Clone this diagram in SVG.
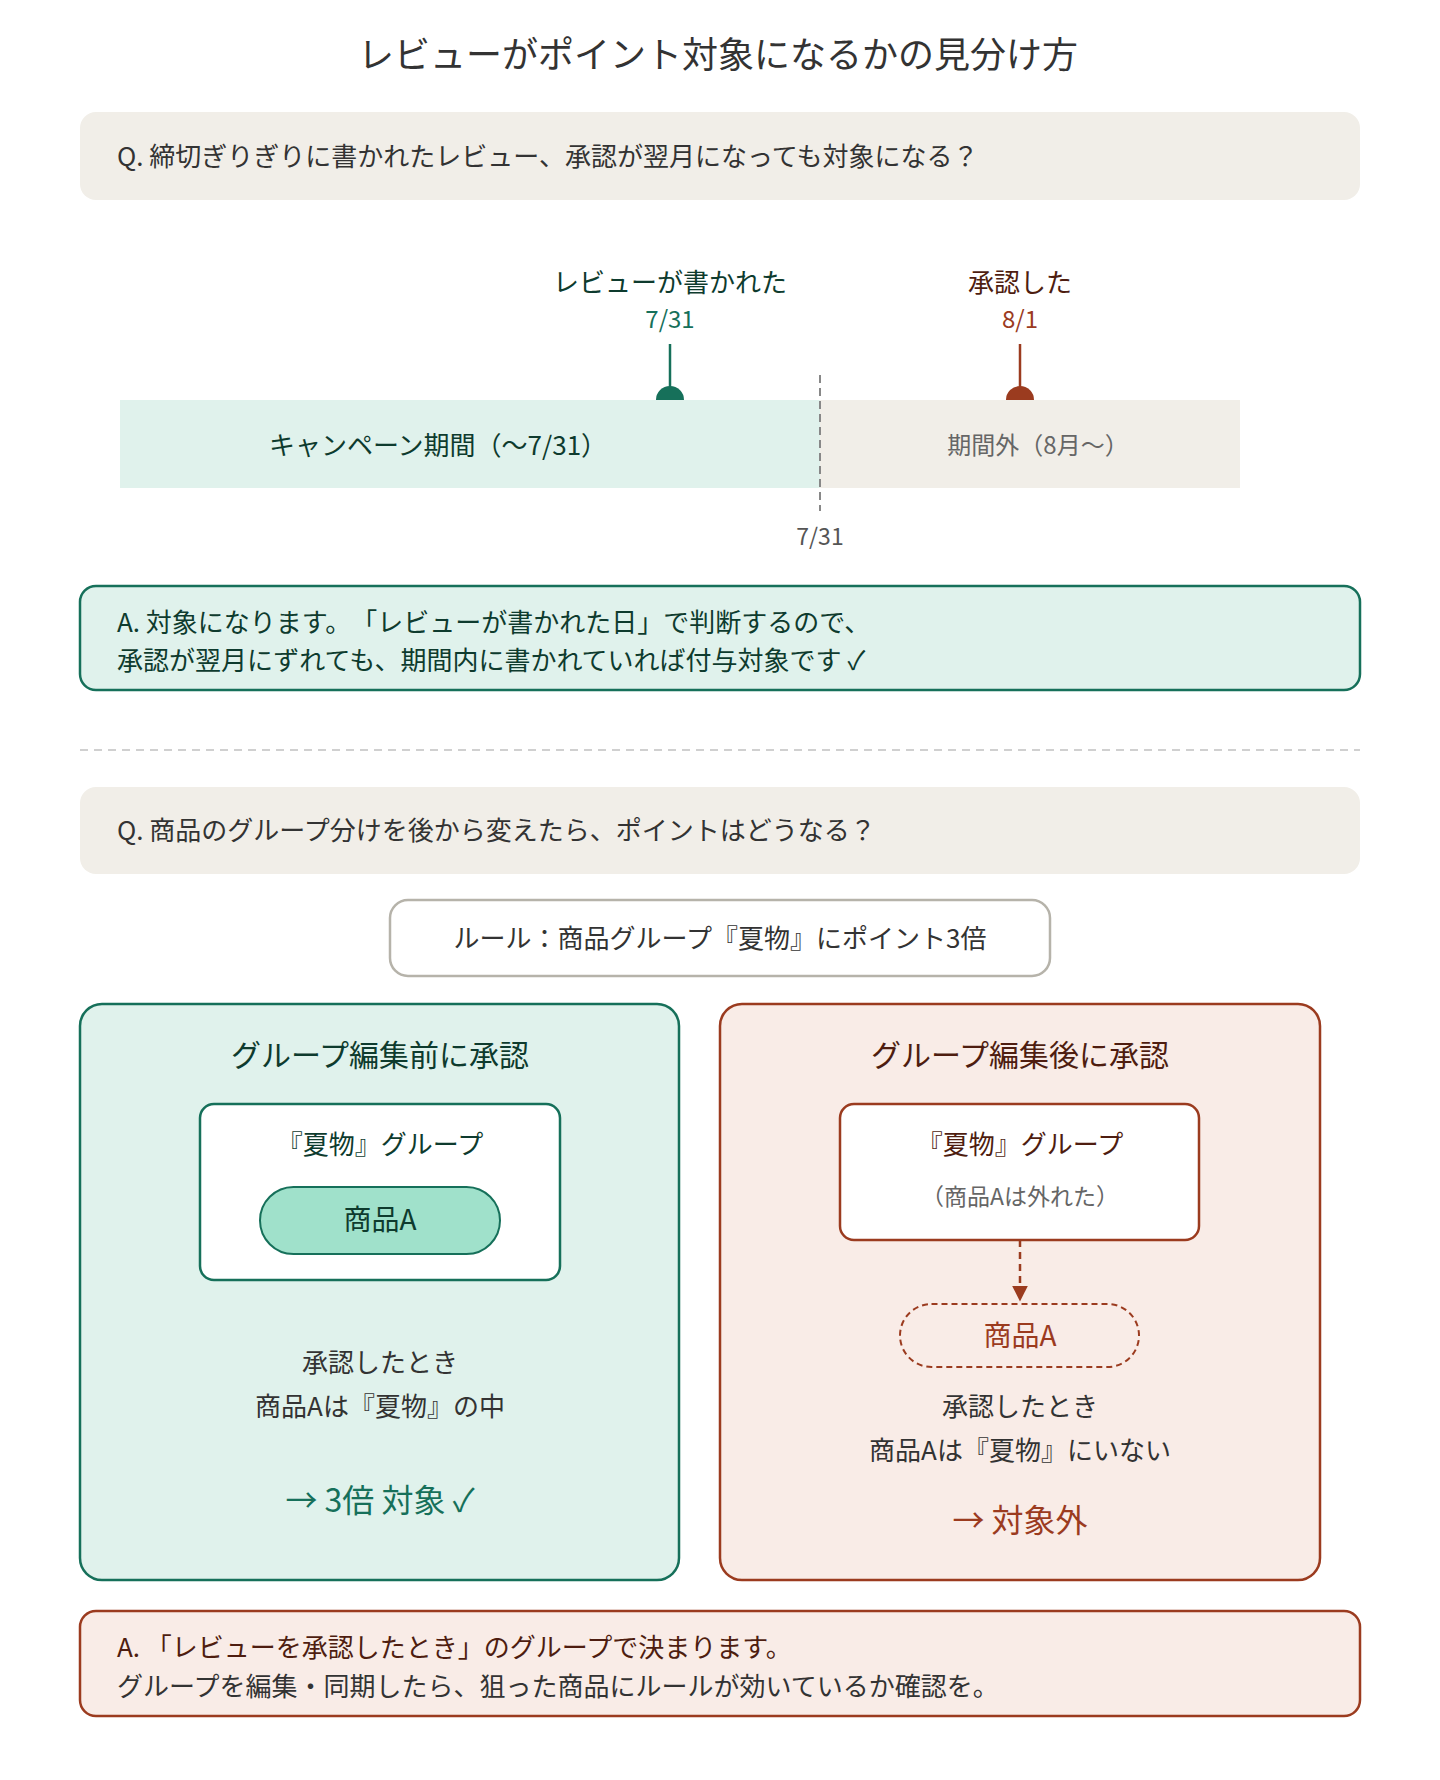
<svg xmlns="http://www.w3.org/2000/svg" width="1440" height="1780" viewBox="0 0 1440 1780">
<defs>
<style>
text{font-family:"Noto Sans CJK JP","Noto Sans",sans-serif;dominant-baseline:central;text-spacing-trim:space-all}
.c{text-anchor:middle}
.body{font-size:26px;fill:#333}
.qbox{fill:#f1eee8}
.gbox{fill:#e0f2ec;stroke:#16705a;stroke-width:2.5}
.rbox{fill:#f9ece7;stroke:#9b3b1f;stroke-width:2.5}
.gtxt{fill:#0e3b2e}
.rtxt{fill:#4e1d10}
</style>
<marker id="arrR" viewBox="0 0 10 10" refX="9" refY="5" markerWidth="16" markerHeight="18" markerUnits="userSpaceOnUse" orient="auto"><path d="M0,0 L10,5 L0,10 z" fill="#9b3b1f"/></marker>
</defs>
<rect width="1440" height="1780" fill="#fff"/>
<text x="718" y="52" class="c" font-size="36" fill="#333">レビューがポイント対象になるかの見分け方</text>

<g id="q1"><rect x="80" y="112" width="1280" height="88" rx="16" class="qbox"/>
<text x="117" y="154" class="body">Q. 締切ぎりぎりに書かれたレビュー、承認が翌月になっても対象になる？</text></g>

<g id="timeline">
<rect x="120" y="400" width="700" height="88" fill="#e0f2ec"/>
<rect x="820" y="400" width="420" height="88" fill="#f1eee8"/>
<text x="438" y="443" class="c gtxt" font-size="26">キャンペーン期間（〜7/31）</text>
<text x="1038" y="443" class="c" font-size="24" fill="#666">期間外（8月〜）</text>
<line x1="820" y1="375" x2="820" y2="511" stroke="#888" stroke-width="2" stroke-dasharray="8 5"/>
<text x="820" y="535" class="c" font-size="23" fill="#555">7/31</text>
</g>
<g id="m-written">
<text x="670" y="280" class="c gtxt" font-size="26">レビューが書かれた</text>
<text x="670" y="317" class="c" font-size="24" fill="#16705a">7/31</text>
<line x1="670" y1="344" x2="670" y2="392" stroke="#16705a" stroke-width="2.5"/>
<path d="M656,400 A14,14 0 0 1 684,400 z" fill="#16705a"/>
</g>
<g id="m-approved">
<text x="1020" y="280" class="c rtxt" font-size="26">承認した</text>
<text x="1020" y="317" class="c" font-size="24" fill="#9b3b1f">8/1</text>
<line x1="1020" y1="344" x2="1020" y2="392" stroke="#9b3b1f" stroke-width="2.5"/>
<path d="M1006,400 A14,14 0 0 1 1034,400 z" fill="#9b3b1f"/>
</g>

<g id="a1"><rect x="80" y="586" width="1280" height="104" rx="16" class="gbox"/>
<text x="117" y="620" class="body gtxt">A. 対象になります。「レビューが書かれた日」で判断するので、</text>
<text x="117" y="658" class="body gtxt">承認が翌月にずれても、期間内に書かれていれば付与対象です ✓</text></g>

<line x1="80" y1="750" x2="1360" y2="750" stroke="#d0d0d0" stroke-width="2" stroke-dasharray="8 6"/>

<g id="q2"><rect x="80" y="787" width="1280" height="87" rx="16" class="qbox"/>
<text x="117" y="828" class="body">Q. 商品のグループ分けを後から変えたら、ポイントはどうなる？</text></g>

<g id="rule"><rect x="390" y="900" width="660" height="76" rx="18" fill="#fff" stroke="#b6b3aa" stroke-width="2.5"/>
<text x="720" y="936" class="c body">ルール：商品グループ『夏物』にポイント3倍</text></g>

<g id="left">
<rect x="80" y="1004" width="599" height="576" rx="22" class="gbox"/>
<text x="380" y="1053" class="c gtxt" font-size="30">グループ編集前に承認</text>
<rect x="200" y="1104" width="360" height="176" rx="14" fill="#fff" stroke="#16705a" stroke-width="2.5"/>
<text x="380" y="1142" class="c body gtxt">『夏物』グループ</text>
<rect x="260" y="1187" width="240" height="67" rx="33.5" fill="#a0e1cb" stroke="#16705a" stroke-width="2"/>
<text x="380" y="1218" class="c gtxt" font-size="28">商品A</text>
<text x="380" y="1360" class="c body">承認したとき</text>
<text x="380" y="1404" class="c body">商品Aは『夏物』の中</text>
<text x="380" y="1498" class="c" font-size="32" fill="#16705a">→ 3倍 対象 ✓</text>
</g>

<g id="right">
<rect x="720" y="1004" width="600" height="576" rx="22" class="rbox"/>
<text x="1020" y="1053" class="c rtxt" font-size="30">グループ編集後に承認</text>
<rect x="840" y="1104" width="359" height="136" rx="14" fill="#fff" stroke="#9b3b1f" stroke-width="2.5"/>
<text x="1020" y="1142" class="c body rtxt">『夏物』グループ</text>
<text x="1020" y="1195" class="c" font-size="23" fill="#666">（商品Aは外れた）</text>
<rect x="900" y="1304" width="239" height="63" rx="31.5" fill="none" stroke="#9b3b1f" stroke-width="2" stroke-dasharray="6 4"/>
<text x="1020" y="1334" class="c" font-size="28" fill="#9b3b1f">商品A</text>
<text x="1020" y="1404" class="c body">承認したとき</text>
<text x="1020" y="1448" class="c body">商品Aは『夏物』にいない</text>
<text x="1020" y="1518" class="c" font-size="32" fill="#9b3b1f">→ 対象外</text>
</g>

<g id="connectors">
<line x1="1020" y1="1240" x2="1020" y2="1300" stroke="#9b3b1f" stroke-width="2.5" stroke-dasharray="7 5" marker-end="url(#arrR)"/>
</g>

<g id="a2"><rect x="80" y="1611" width="1280" height="105" rx="16" class="rbox"/>
<text x="117" y="1645" class="body rtxt">A. 「レビューを承認したとき」のグループで決まります。</text>
<text x="117" y="1684" class="body">グループを編集・同期したら、狙った商品にルールが効いているか確認を。</text></g>
</svg>
